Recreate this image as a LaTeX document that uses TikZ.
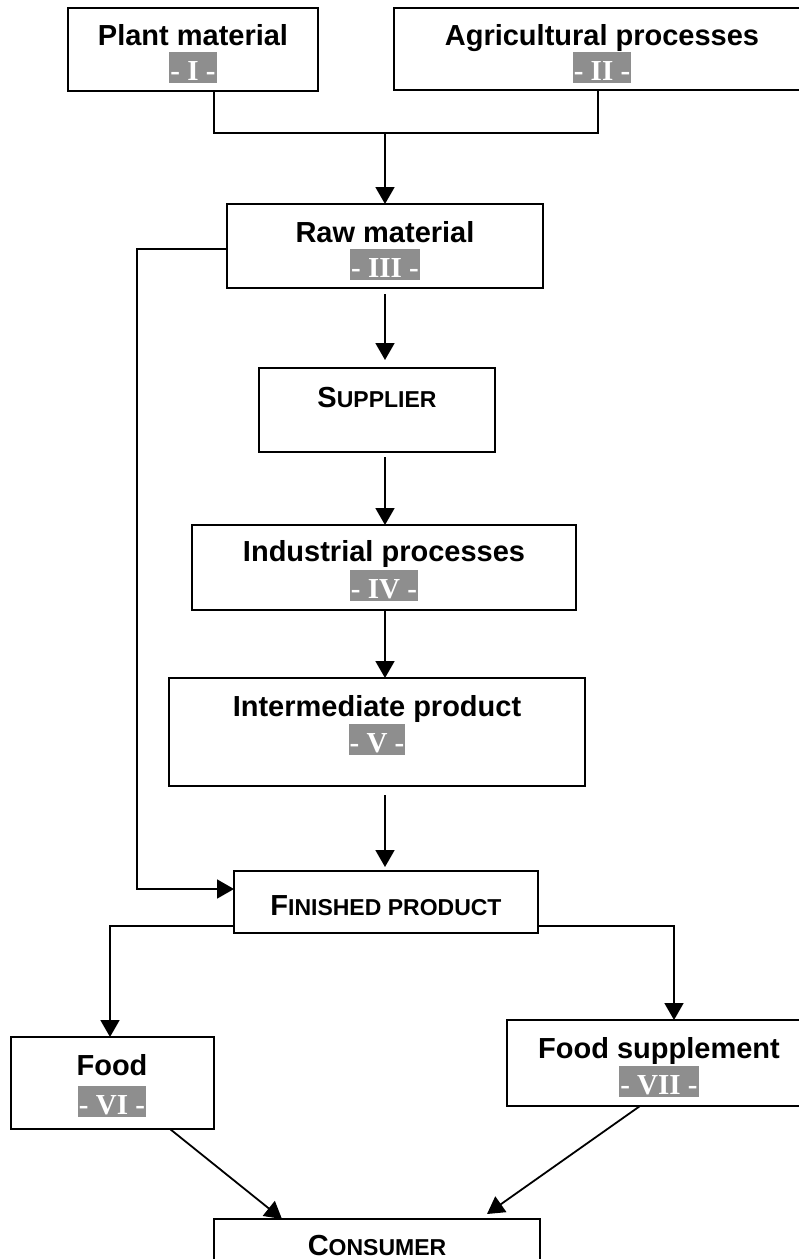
\documentclass[tikz,border=0pt]{standalone}
\usepackage{fontspec}
\setmainfont{Liberation Sans}
\newfontfamily\tagserif{Liberation Serif}
\usetikzlibrary{arrows.meta,calc}
\definecolor{tagfill}{RGB}{142,142,142}
\newcommand\szfull{\fontsize{29}{34}\selectfont}
\newcommand\szsmall{\fontsize{23}{28}\selectfont}

\begin{document}
\begin{tikzpicture}[x=1pt,y=-1pt,
  box/.style={draw,line width=1.8pt,rectangle,inner sep=0pt,outer sep=0pt,anchor=north west},
  title/.style={font=\bfseries\szfull,anchor=base,inner sep=0pt},
  tag/.style={font=\tagserif\bfseries\szfull,text=white,fill=tagfill,
    inner xsep=1pt,inner ysep=0pt,text height=28pt,text depth=3pt,anchor=base},
  conn/.style={line width=1.8pt},
  arr/.style={conn,-{Triangle[length=17pt,width=19pt]}}]

\useasboundingbox (0,0) rectangle (799,1259);

% boxes
\node[box,minimum width=250pt,minimum height=83pt]  (plant) at (68,8) {};
\node[box,minimum width=417pt,minimum height=82pt]  (agri)  at (394,8) {};
\node[box,minimum width=316pt,minimum height=84pt]  (raw)   at (227,204) {};
\node[box,minimum width=236pt,minimum height=84pt]  (sup)   at (259,368) {};
\node[box,minimum width=384pt,minimum height=85pt]  (ind)   at (192,525) {};
\node[box,minimum width=416pt,minimum height=108pt] (inter) at (169,678) {};
\node[box,minimum width=304pt,minimum height=62pt]  (fin)   at (234,871) {};
\node[box,minimum width=203pt,minimum height=92pt]  (food)  at (11,1037) {};
\node[box,minimum width=304pt,minimum height=86pt]  (supp)  at (507,1020) {};
\node[box,minimum width=326pt,minimum height=80pt]  (cons)  at (214,1219) {};

% titles and numerals
\node[title] (plantT) at (193,45) {Plant material};
\node[tag]   (plantN) at (193,80) {- I -};
\node[title] (agriT)  at (602,45) {Agricultural processes};
\node[tag]   (agriN)  at (602,80) {- II -};
\node[title] (rawT)   at (385,242) {Raw material};
\node[tag]   (rawN)   at (385,277) {- III -};
\node[title] (supT)   at (377,407) {S{\szsmall UPPLIER}};
\node[title] (indT)   at (384,561) {Industrial processes};
\node[tag]   (indN)   at (384,598) {- IV -};
\node[title] (interT) at (377,716) {Intermediate product};
\node[tag]   (interN) at (377,752) {- V -};
\node[title] (finT)   at (386,915) {F{\szsmall INISHED PRODUCT}};
\node[title] (foodT)  at (112,1075) {Food};
\node[tag]   (foodN)  at (112,1114) {- VI -};
\node[title] (suppT)  at (659,1058) {Food supplement};
\node[tag]   (suppN)  at (659,1094) {- VII -};
\node[title] (consT)  at (377,1255) {C{\szsmall ONSUMER}};

% routing points
\coordinate (pl)    at (214,133);
\coordinate (ag)    at (598,133);
\coordinate (mid)   at (385,133);
\coordinate (spine) at (385,0);
\coordinate (rawl)  at (0,249);
\coordinate (side)  at (137,889);
\coordinate (fl)    at (110,926);
\coordinate (fr)    at (674,926);
\coordinate (fdo)   at (170,0);
\coordinate (sdo)   at (640,0);
\coordinate (cl)    at (282,0);
\coordinate (cr)    at (487,0);

% connectors
\draw[conn] (plant.south -| pl) -- (pl) -- (ag) -- (agri.south -| ag);
\draw[arr] (mid) -- (raw.north -| mid);
\draw[arr] (raw.west |- rawl) -- (side |- rawl) -- (side) -- (fin.west |- side);
\draw[arr] ($(raw.south -| spine)+(0,6)$) -- ($(sup.north -| spine)+(0,-8)$);
\draw[arr] ($(sup.south -| spine)+(0,5)$) -- (ind.north -| spine);
\draw[arr] (ind.south -| spine) -- (inter.north -| spine);
\draw[arr] ($(inter.south -| spine)+(0,9)$) -- ($(fin.north -| spine)+(0,-4)$);
\draw[arr] (fin.west |- fl) -- (fl) -- (food.north -| fl);
\draw[arr] (fin.east |- fr) -- (fr) -- (supp.north -| fr);
\draw[arr] (food.south -| fdo) -- (cons.north -| cl);
\draw[arr] (supp.south -| sdo) -- ($(cons.north -| cr)+(0,-5)$);
\end{tikzpicture}
\end{document}
